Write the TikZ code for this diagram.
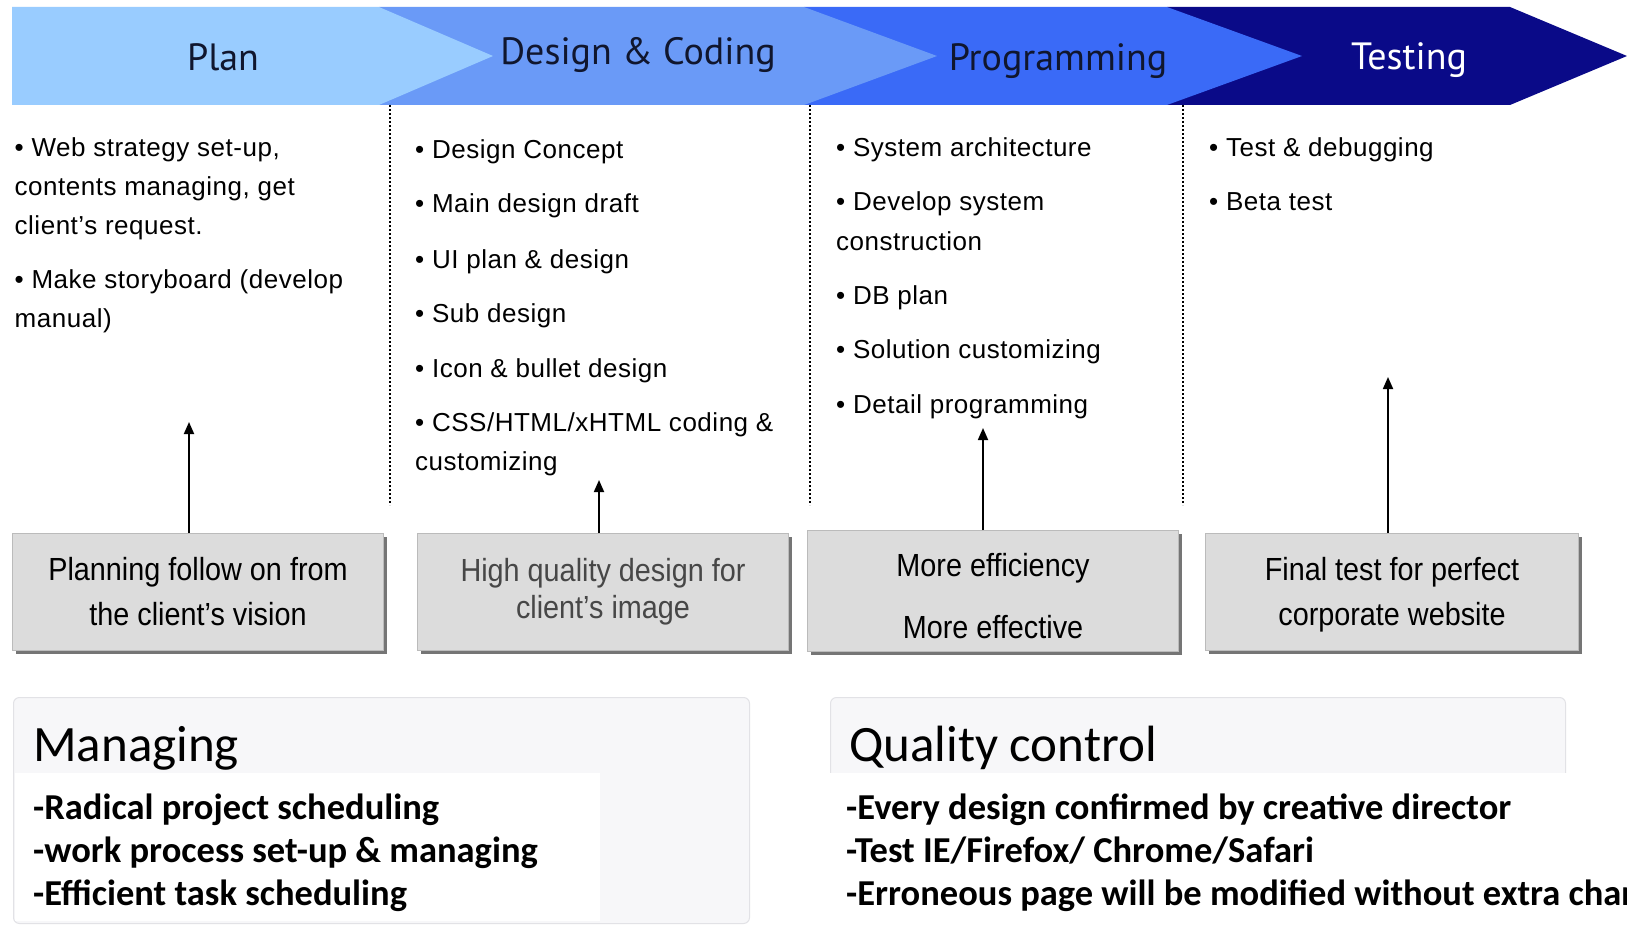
\documentclass[tikz,border=0pt]{standalone}
\usepackage{fontspec}
\setmainfont[LetterSpace=2]{Liberation Sans}
\newfontfamily\hdrfont{PT Sans}
\newfontfamily\boxfont[FakeStretch=0.9]{Liberation Sans}
\newfontfamily\califont{Carlito}
\usetikzlibrary{arrows.meta,shadows}
\definecolor{planc}{HTML}{99CCFF}
\definecolor{desc}{HTML}{6A9AF7}
\definecolor{progc}{HTML}{3A6AF7}
\definecolor{testc}{HTML}{0A0A88}
\definecolor{boxfill}{HTML}{DCDCDC}
\definecolor{panelfill}{HTML}{F7F7F9}
\definecolor{panelline}{HTML}{E2E2E6}
\definecolor{hdrink}{HTML}{10162E}
\begin{document}
\begin{tikzpicture}[x=1pt,y=-1pt,
  hdrtext/.style={font=\hdrfont\fontsize{38}{44}\selectfont, text=hdrink, inner sep=0},
  item/.style={anchor=base west, inner sep=0, font=\fontsize{26}{30}\selectfont},
  gbox/.style={fill=boxfill, draw=boxfill!85!black, line width=0.6pt,
    drop shadow={shadow xshift=3pt, shadow yshift=-3pt, fill=black!60, opacity=0.9},
    align=center, font=\boxfont\fontsize{32}{45}\selectfont, inner sep=0},
  boxtext/.style={align=center, font=\boxfont\fontsize{32}{45}\selectfont, inner sep=0},
  sep/.style={line width=1.6pt, dash pattern=on 1.6pt off 2.4pt},
  arr/.style={line width=1.8pt, -{Triangle[length=12pt,width=10pt]}},
  panel/.style={fill=panelfill, draw=panelline, line width=1pt, rounded corners=6pt},
  ptitle/.style={anchor=base west, inner sep=0, font=\califont\fontsize{51}{60}\selectfont},
  pitem/.style={anchor=base west, inner sep=0, font=\califont\bfseries\fontsize{36.5}{44}\selectfont},
]
\useasboundingbox (0,0) rectangle (1627,928);
\fill[white] (0,0) rectangle (1627,928);
\clip (0,0) rectangle (1627,928);

% header chevrons
\fill[testc] (1167,7) -- (1510,7) -- (1627,56) -- (1510,105) -- (1167,105) -- cycle;
\fill[progc] (804,7) -- (1167,7) -- (1302,56) -- (1167,105) -- (804,105) -- cycle;
\fill[desc] (379,7) -- (804,7) -- (937,56) -- (804,105) -- (379,105) -- cycle;
\fill[planc] (12,7) -- (379,7) -- (493,56) -- (379,105) -- (12,105) -- cycle;

\node[hdrtext] (hplan) at (223,57) {Plan};
\node[hdrtext] (hdes) at (638,55) {Design \& Coding};
\node[hdrtext] (hprog) at (1058,61) {Programming};
\node[hdrtext, text=white] (htest) at (1409,60) {Testing};

% separators
\draw[sep] (390,105) -- (390,505);
\draw[sep] (810,105) -- (810,505);
\draw[sep] (1183,105) -- (1183,505);

% plan column
\node[item] (p1) at (14.5,157) {• Web strategy set-up,};
\node[item] (p2) at (14.5,196) {contents managing, get};
\node[item] (p3) at (14.5,234) {client’s request.};
\node[item] (p4) at (14.5,288) {• Make storyboard (develop};
\node[item] (p5) at (14.5,327) {manual)};

% design column
\node[item] (d1) at (415,159) {• Design Concept};
\node[item] (d2) at (415,213) {• Main design draft};
\node[item] (d3) at (415,268) {• UI plan \& design};
\node[item] (d4) at (415,322) {• Sub design};
\node[item] (d5) at (415,377) {• Icon \& bullet design};
\node[item] (d6) at (415,431) {• CSS/HTML/xHTML coding \&};
\node[item] (d7) at (415,470) {customizing};

% programming column
\node[item] (g1) at (836,157) {• System architecture};
\node[item] (g2) at (836,211) {• Develop system};
\node[item] (g3) at (836,250) {construction};
\node[item] (g4) at (836,304) {• DB plan};
\node[item] (g5) at (836,358) {• Solution customizing};
\node[item] (g6) at (836,413) {• Detail programming};

% testing column
\node[item] (t1i) at (1209,157) {• Test \& debugging};
\node[item] (t2i) at (1209,211) {• Beta test};

% grey boxes
\node[gbox, minimum width=371, minimum height=117] (b1) at (198,592) {Planning follow on from\\the client’s vision};
\node[gbox, minimum width=371, minimum height=117, text=black!72, font=\boxfont\fontsize{32}{37}\selectfont] (b2) at (603,592) {High quality design for\\client’s image};
\node[gbox, minimum width=371, minimum height=121] (b3) at (993,591) {};
\node[boxtext] (b3t) at (993,596.5) {More efficiency\\[17pt]More effective};
\node[gbox, minimum width=373, minimum height=117] (b4) at (1392,592) {};
\node[boxtext] (b4t) at (1392,594.5) {Final test for perfect\\corporate website};

% arrows
\coordinate (a1) at (189,422);
\coordinate (a2) at (599,480);
\coordinate (a3) at (983,428);
\coordinate (a4) at (1388,377);
\draw[arr] (b1.north -| a1) -- (a1);
\draw[arr] (b2.north -| a2) -- (a2);
\draw[arr] (b3.north -| a3) -- (a3);
\draw[arr] (b4.north -| a4) -- (a4);

% bottom panels
\node[panel, minimum width=736, minimum height=226, anchor=north west] (mpanel) at (13,697) {};
\fill[white] (15,773) rectangle (600,921);
\node[ptitle] (mtitle) at (33,761) {Managing};
\node[pitem] (m1) at (33,819) {-Radical project scheduling};
\node[pitem] (m2) at (33,862) {-work process set-up \& managing};
\node[pitem] (m3) at (33,905) {-Efficient task scheduling};

\node[panel, minimum width=735, minimum height=240, anchor=north west] (qpanel) at (830,697) {};
\fill[white] (828,773) rectangle (1627,928);
\node[ptitle] (qtitle) at (849,761) {Quality control};
\node[pitem] (q1) at (846,819) {-Every design confirmed by creative director};
\node[pitem] (q2) at (846,862) {-Test IE/Firefox/ Chrome/Safari};
\node[pitem] (q3) at (846,905) {-Erroneous page will be modified without extra charge};
\end{tikzpicture}
\end{document}
